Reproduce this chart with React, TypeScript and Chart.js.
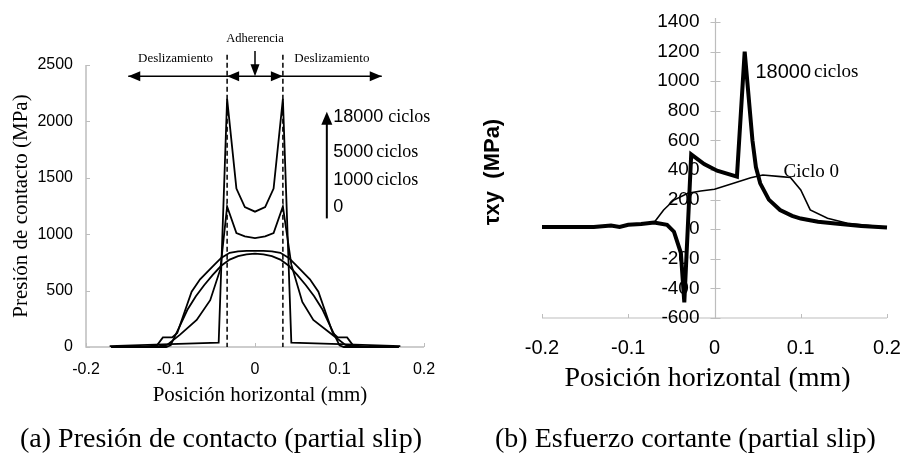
import React, { useEffect, useRef } from 'react';
import Chart from 'chart.js/auto';

const SANS = '"Liberation Sans", Arial, sans-serif';
const SERIF = '"Liberation Serif", "Times New Roman", serif';

// ---------- (a) Presión de contacto ----------
const xTicksA = [-0.2, -0.1, 0, 0.1, 0.2];
const xTickLabelsA = ['-0.2', '-0.1', '0', '0.1', '0.2'];
const yTicksA = [0, 500, 1000, 1500, 2000, 2500];
const yTickLabelsA = ['0', '500', '1000', '1500', '2000', '2500'];

const pos18000 = [-0.172, -0.1, -0.043, -0.033, -0.022, -0.012, 0, 0.012, 0.022, 0.033, 0.043, 0.1, 0.172];
const pres18000 = [8, 25, 38, 2200, 1405, 1240, 1200, 1240, 1405, 2200, 38, 25, 8];

const pos5000 = [-0.17, -0.12, -0.104, -0.089, -0.069, -0.053, -0.041, -0.033, -0.022, -0.012, 0, 0.012, 0.022, 0.033, 0.043, 0.056, 0.069, 0.09, 0.107, 0.12, 0.17];
const pres5000 = [0, 0, 18, 107, 240, 415, 690, 1245, 1010, 980, 965, 980, 1010, 1245, 730, 400, 240, 118, 18, 0, 0];

const pos1000 = [-0.17, -0.135, -0.116, -0.109, -0.098, -0.092, -0.075, -0.065, -0.05, -0.04, -0.03, -0.02, -0.01, 0, 0.01, 0.02, 0.03, 0.04, 0.05, 0.065, 0.075, 0.092, 0.098, 0.109, 0.116, 0.135, 0.17];
const pres1000 = [0, 0, 15, 85, 85, 124, 490, 600, 715, 790, 835, 848, 852, 853, 852, 848, 835, 790, 715, 600, 490, 124, 85, 85, 15, 0, 0];

const pos0 = [-0.17, -0.105, -0.1, -0.09, -0.08, -0.07, -0.06, -0.05, -0.04, -0.03, -0.02, -0.01, 0, 0.01, 0.02, 0.03, 0.04, 0.05, 0.06, 0.07, 0.08, 0.09, 0.1, 0.105, 0.17];
const pres0 = [0, 0, 15, 170, 330, 450, 550, 640, 720, 775, 805, 822, 828, 822, 805, 775, 720, 640, 550, 450, 330, 170, 15, 0, 0];

const stickEdges = [-0.033, 0.033];
const cycleLabels = ['18000', '5000', '1000', '0'];

// ---------- (b) Esfuerzo cortante ----------
const xTicksB = [-0.2, -0.1, 0, 0.1, 0.2];
const xTickLabelsB = ['-0.2', '-0.1', '0', '0.1', '0.2'];
const yTicksB = [-600, -400, -200, 0, 200, 400, 600, 800, 1000, 1200, 1400];
const yTickLabelsB = ['-600', '-400', '-200', '0', '200', '400', '600', '800', '1000', '1200', '1400'];

const posShear18000 = [-0.2, -0.17, -0.14, -0.12, -0.11, -0.1, -0.085, -0.07, -0.055, -0.047, -0.039, -0.035, -0.027, -0.012, 0.003, 0.026, 0.035, 0.044, 0.048, 0.053, 0.063, 0.076, 0.09, 0.1, 0.12, 0.14, 0.17, 0.2];
const tau18000 = [15, 15, 15, 25, 15, 30, 35, 45, 30, -17, -160, -495, 505, 440, 395, 355, 1200, 600, 420, 310, 200, 130, 90, 72, 50, 38, 22, 12];

const posShear0 = [-0.2, -0.17, -0.14, -0.12, -0.11, -0.1, -0.085, -0.07, -0.059, -0.047, -0.031, -0.016, 0, 0.022, 0.042, 0.056, 0.077, 0.088, 0.1, 0.111, 0.131, 0.154, 0.2];
const tau0 = [15, 15, 15, 25, 15, 30, 35, 45, 130, 197, 243, 258, 270, 310, 348, 366, 355, 350, 265, 130, 74, 40, 13];

const pts = (xs: number[], ys: number[]) => xs.map((x, i) => ({ x, y: ys[i] }));

function arrowHead(ctx: CanvasRenderingContext2D, tx: number, ty: number, dx: number, dy: number, len = 12, half = 5) {
  const nx = -dy, ny = dx;
  ctx.beginPath();
  ctx.moveTo(tx, ty);
  ctx.lineTo(tx - dx * len + nx * half, ty - dy * len + ny * half);
  ctx.lineTo(tx - dx * len - nx * half, ty - dy * len - ny * half);
  ctx.closePath();
  ctx.fill();
}

const AXIS_COLOR = '#bdbdbd';

const axesA = {
  id: 'axesA',
  beforeDatasetsDraw(chart: any) {
    const { ctx, chartArea: a, scales: { x, y } } = chart;
    ctx.save();
    ctx.strokeStyle = AXIS_COLOR;
    ctx.lineWidth = 1.5;
    ctx.beginPath();
    ctx.moveTo(a.left, a.top);
    ctx.lineTo(a.left, a.bottom);
    ctx.lineTo(a.right, a.bottom);
    ctx.stroke();
    ctx.lineWidth = 1;
    yTicksA.forEach((v) => {
      const py = Math.round(y.getPixelForValue(v)) + 0.5;
      ctx.beginPath(); ctx.moveTo(a.left, py); ctx.lineTo(a.left + 4, py); ctx.stroke();
    });
    xTicksA.forEach((v) => {
      const px = Math.round(x.getPixelForValue(v)) + 0.5;
      ctx.beginPath(); ctx.moveTo(px, a.bottom); ctx.lineTo(px, a.bottom - 4); ctx.stroke();
    });
    ctx.fillStyle = '#000';
    ctx.font = `16px ${SANS}`;
    ctx.textAlign = 'right';
    ctx.textBaseline = 'middle';
    yTicksA.forEach((v, i) => ctx.fillText(yTickLabelsA[i], a.left - 13, y.getPixelForValue(v)));
    ctx.textAlign = 'center';
    xTicksA.forEach((v, i) => ctx.fillText(xTickLabelsA[i], x.getPixelForValue(v), a.bottom + 23));
    ctx.font = `21px ${SERIF}`;
    ctx.fillText('Posición horizontal (mm)', (a.left + a.right) / 2 + 5, a.bottom + 48);
    ctx.save();
    ctx.translate(21, (a.top + a.bottom) / 2);
    ctx.rotate(-Math.PI / 2);
    ctx.fillText('Presión de contacto (MPa)', 0, 0);
    ctx.restore();
    ctx.restore();
  },
  afterDatasetsDraw(chart: any) {
    const { ctx, chartArea: a, scales: { x, y } } = chart;
    ctx.save();
    ctx.strokeStyle = '#000';
    ctx.fillStyle = '#000';
    // dashed stick-zone limits
    ctx.lineWidth = 1.5;
    ctx.setLineDash([5, 3]);
    stickEdges.forEach((v) => {
      const px = x.getPixelForValue(v);
      ctx.beginPath(); ctx.moveTo(px, y.getPixelForValue(2590)); ctx.lineTo(px, a.bottom); ctx.stroke();
    });
    ctx.setLineDash([]);
    // horizontal arrows
    const ay = y.getPixelForValue(2400);
    const xl = x.getPixelForValue(-0.15), xr = x.getPixelForValue(0.15);
    const xs1 = x.getPixelForValue(stickEdges[0]), xs2 = x.getPixelForValue(stickEdges[1]);
    ctx.lineWidth = 1.5;
    ctx.beginPath(); ctx.moveTo(xl, ay); ctx.lineTo(xr, ay); ctx.stroke();
    arrowHead(ctx, xl, ay, -1, 0);
    arrowHead(ctx, xr, ay, 1, 0);
    arrowHead(ctx, xs1, ay, -1, 0);
    arrowHead(ctx, xs2, ay, 1, 0);
    // down arrow
    const x0 = x.getPixelForValue(0);
    ctx.beginPath(); ctx.moveTo(x0, y.getPixelForValue(2625)); ctx.lineTo(x0, ay - 4); ctx.stroke();
    arrowHead(ctx, x0, ay, 0, 1, 12, 4.5);
    // labels
    ctx.font = `12.5px ${SERIF}`;
    ctx.textAlign = 'center';
    ctx.textBaseline = 'middle';
    ctx.fillText('Adherencia', x0, y.getPixelForValue(2730));
    ctx.font = `13px ${SERIF}`;
    ctx.fillText('Deslizamiento', x.getPixelForValue(-0.094), y.getPixelForValue(2560));
    ctx.fillText('Deslizamiento', x.getPixelForValue(0.091), y.getPixelForValue(2560));
    // cycles arrow
    const lx = x.getPixelForValue(0.085);
    const ty = y.getPixelForValue(2085);
    ctx.lineWidth = 2;
    ctx.beginPath(); ctx.moveTo(lx, y.getPixelForValue(1140)); ctx.lineTo(lx, ty + 6); ctx.stroke();
    arrowHead(ctx, lx, ty, 0, -1, 13, 5.5);
    const labY = [2039, 1729, 1480, 1241];
    const tx = x.getPixelForValue(0.0925);
    ctx.textAlign = 'left';
    cycleLabels.forEach((lab, i) => {
      const py = y.getPixelForValue(labY[i]);
      ctx.font = `18px ${SANS}`;
      ctx.fillText(lab, tx, py);
      if (lab !== '0') {
        const w = ctx.measureText(lab).width;
        ctx.font = `18px ${SERIF}`;
        ctx.fillText('ciclos', tx + w + (i === 0 ? 5 : 3), py);
      }
    });
    ctx.restore();
  },
};

const axesB = {
  id: 'axesB',
  beforeDatasetsDraw(chart: any) {
    const { ctx, chartArea: a, scales: { x, y } } = chart;
    const x0 = Math.round(x.getPixelForValue(0)) + 0.5;
    ctx.save();
    ctx.strokeStyle = AXIS_COLOR;
    ctx.lineWidth = 1.2;
    ctx.beginPath();
    ctx.moveTo(x0, a.top - 4); ctx.lineTo(x0, a.bottom);
    ctx.moveTo(a.left, a.bottom); ctx.lineTo(a.right, a.bottom);
    ctx.stroke();
    ctx.lineWidth = 1;
    yTicksB.forEach((v) => {
      const py = Math.round(y.getPixelForValue(v)) + 0.5;
      ctx.beginPath(); ctx.moveTo(x0 - 5, py); ctx.lineTo(x0 + 5, py); ctx.stroke();
    });
    xTicksB.forEach((v) => {
      const px = Math.round(x.getPixelForValue(v)) + 0.5;
      ctx.beginPath(); ctx.moveTo(px, a.bottom); ctx.lineTo(px, a.bottom - 4); ctx.stroke();
    });
    ctx.fillStyle = '#000';
    ctx.font = `19px ${SANS}`;
    ctx.textAlign = 'right';
    ctx.textBaseline = 'middle';
    yTicksB.forEach((v, i) => ctx.fillText(yTickLabelsB[i], x0 - 16, y.getPixelForValue(v)));
    ctx.textAlign = 'center';
    ctx.font = `20px ${SANS}`;
    xTicksB.forEach((v, i) => ctx.fillText(xTickLabelsB[i], x.getPixelForValue(v), a.bottom + 30));
    ctx.font = `28px ${SERIF}`;
    ctx.fillText('Posición horizontal (mm)', (a.left + a.right) / 2 - 7, a.bottom + 61);
    ctx.save();
    ctx.translate(43, 172);
    ctx.rotate(-Math.PI / 2);
    ctx.font = `bold 22px ${SANS}`;
    ctx.fillText('τxy  (MPa)', 0, 0);
    ctx.restore();
    ctx.restore();
  },
  afterDatasetsDraw(chart: any) {
    const { ctx, scales: { x, y } } = chart;
    ctx.save();
    ctx.fillStyle = '#000';
    ctx.textAlign = 'left';
    ctx.textBaseline = 'middle';
    const tx = x.getPixelForValue(0.0475), ty = y.getPixelForValue(1062);
    ctx.font = `20px ${SANS}`;
    ctx.fillText('18000', tx, ty);
    const w = ctx.measureText('18000').width;
    ctx.font = `19px ${SERIF}`;
    ctx.fillText('ciclos', tx + w + 3, ty);
    ctx.fillText('Ciclo 0', x.getPixelForValue(0.08), y.getPixelForValue(386));
    ctx.restore();
  },
};

function makeChart(canvas: HTMLCanvasElement, cfg: any) {
  return new Chart(canvas, cfg);
}

export default function App() {
  const refA = useRef<HTMLCanvasElement>(null);
  const refB = useRef<HTMLCanvasElement>(null);

  useEffect(() => {
    document.body.style.margin = '0';
    const line = (data: any, w: number) => ({
      data, borderColor: '#000', borderWidth: w, pointRadius: 0, tension: 0, fill: false, clip: 8,
    });
    const base = (padding: any, ymin: number, ymax: number, plugin: any, datasets: any[]) => ({
      type: 'line',
      data: { datasets },
      options: {
        responsive: false,
        animation: false,
        devicePixelRatio: 1,
        layout: { padding },
        parsing: true,
        plugins: { legend: { display: false }, tooltip: { enabled: false } },
        scales: {
          x: { type: 'linear', min: -0.2, max: 0.2, display: false },
          y: { type: 'linear', min: ymin, max: ymax, display: false },
        },
      },
      plugins: [plugin],
    });
    const cA = makeChart(refA.current!, base({ left: 86, right: 26, top: 65, bottom: 114 }, 0, 2500, axesA, [
      line(pts(pos0, pres0), 1.8),
      line(pts(pos1000, pres1000), 1.8),
      line(pts(pos5000, pres5000), 1.8),
      line(pts(pos18000, pres18000), 1.8),
    ]));
    const cB = makeChart(refB.current!, base({ left: 92, right: 18, top: 22, bottom: 143 }, -600, 1400, axesB, [
      line(pts(posShear0, tau0), 1.6),
      line(pts(posShear18000, tau18000), 4),
    ]));
    return () => { cA.destroy(); cB.destroy(); };
  }, []);

  const cap: React.CSSProperties = {
    position: 'absolute', top: 424, fontFamily: SERIF, fontSize: 28, lineHeight: '28px', whiteSpace: 'nowrap', color: '#000',
  };
  return (
    <div style={{ position: 'fixed', left: 0, top: 0, width: 905, height: 461, background: '#fff', overflow: 'hidden' }}>
      <canvas ref={refA} width={450} height={461} style={{ position: 'absolute', left: 0, top: 0 }} />
      <canvas ref={refB} width={455} height={461} style={{ position: 'absolute', left: 450, top: 0 }} />
      <div style={{ ...cap, left: 20 }}>(a) Presión de contacto (partial slip)</div>
      <div style={{ ...cap, left: 495 }}>(b) Esfuerzo cortante (partial slip)</div>
    </div>
  );
}
